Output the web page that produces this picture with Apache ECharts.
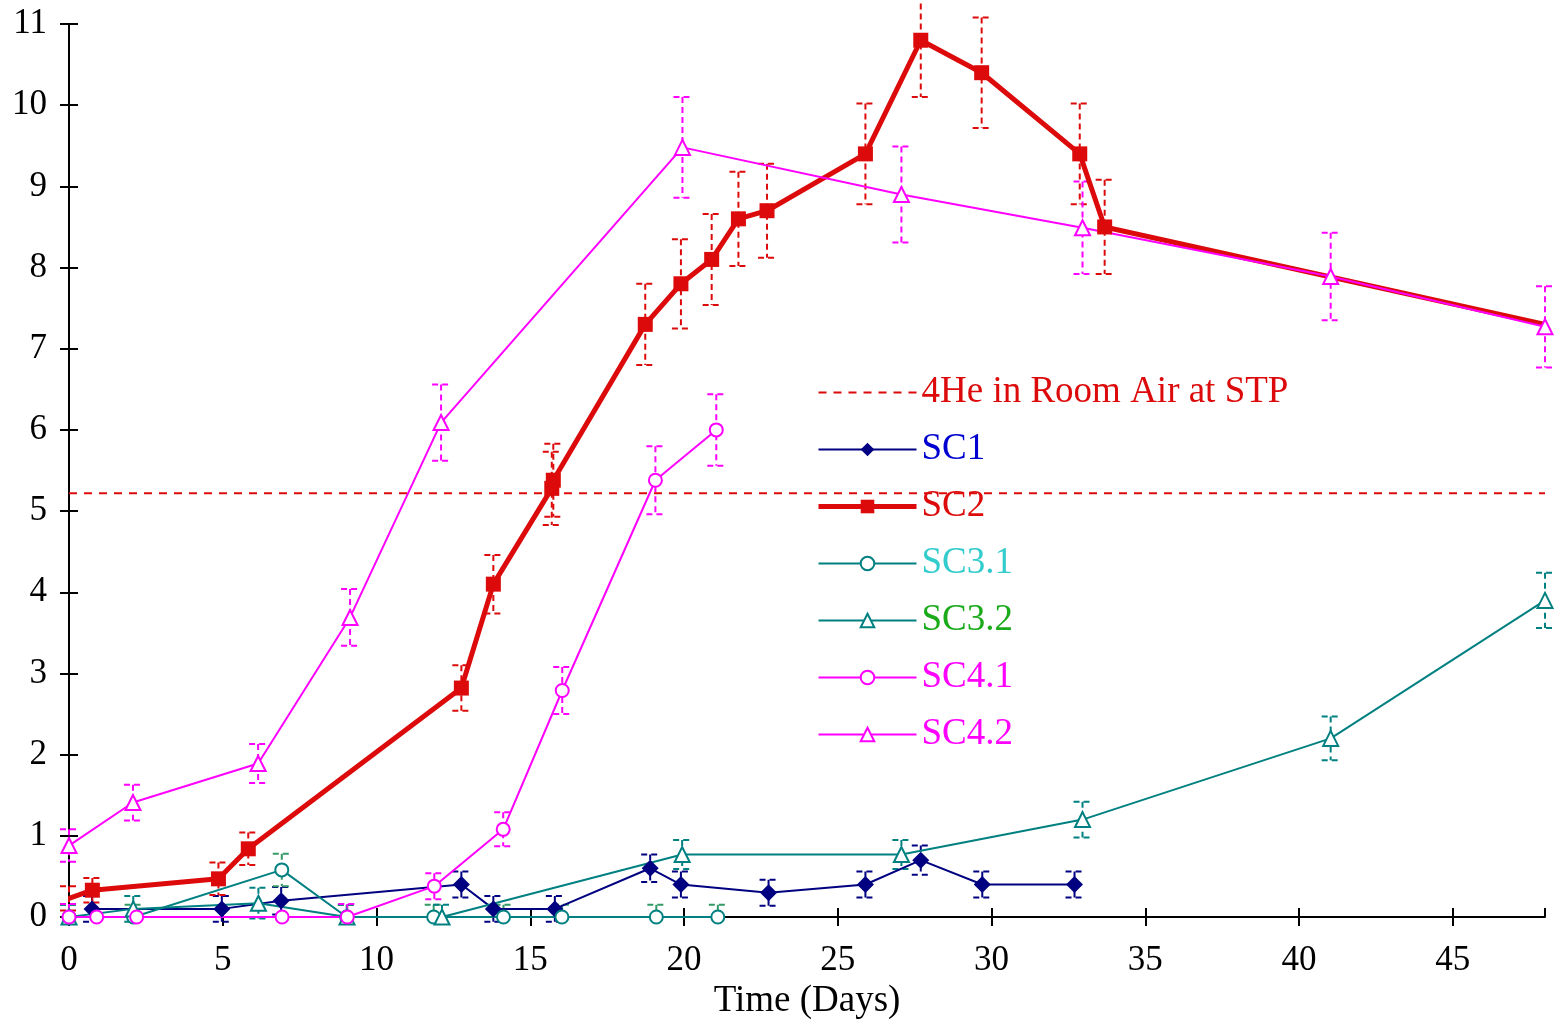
<!DOCTYPE html>
<html><head><meta charset="utf-8">
<script src="https://cdn.jsdelivr.net/npm/echarts@6/dist/echarts.min.js"></script>
<style>html,body{margin:0;padding:0;background:#fff}#c{width:1561px;height:1023px}</style>
</head><body><div id="c"></div>
<script>
// ---------------- data ----------------
const heLevel = 5.22;                 // 4He in room air at STP
const xTicksMax = 48;
const yTicksMax = 11;

const sc1Days = [0.75, 4.97, 6.9, 12.76, 13.8, 15.8, 18.9, 19.9, 22.75, 25.9, 27.7, 29.7, 32.7];
const sc1Vals = [0.1, 0.1, 0.2, 0.4, 0.1, 0.1, 0.6, 0.4, 0.3, 0.4, 0.7, 0.4, 0.4];
const sc1Err  = [0.16, 0.16, 0.17, 0.16, 0.16, 0.16, 0.17, 0.16, 0.16, 0.16, 0.18, 0.16, 0.16];

const sc2Days = [0, 0.76, 4.86, 5.83, 12.76, 13.8, 15.7, 15.75, 18.74, 19.9, 20.9, 21.77, 22.7, 25.9, 27.7, 29.68, 32.87, 33.68, 48];
const sc2Vals = [0.23, 0.33, 0.47, 0.84, 2.82, 4.1, 5.28, 5.38, 7.3, 7.8, 8.1, 8.6, 8.7, 9.4, 10.8, 10.4, 9.4, 8.5, 7.3];
const sc2Err  = [0.15, 0.15, 0.2, 0.2, 0.28, 0.36, 0.45, 0.45, 0.5, 0.55, 0.56, 0.58, 0.58, 0.62, 0.7, 0.68, 0.62, 0.58, 0];

const sc31Days = [0, 2.1, 6.92, 9.03, 11.86, 14.13, 16.03, 19.1, 21.1];
const sc31Vals = [0, 0, 0.58, 0, 0, 0, 0, 0, 0];
const sc31Err  = [0.15, 0.15, 0.2, 0.15, 0.15, 0.15, 0.15, 0.15, 0.15];

const sc32Days = [0, 2.09, 6.16, 9.04, 12.13, 19.94, 27.07, 32.96, 41.03, 48];
const sc32Vals = [0, 0.1, 0.17, 0, 0, 0.77, 0.77, 1.2, 2.2, 3.9];
const sc32Err  = [0.15, 0.16, 0.19, 0.15, 0.15, 0.18, 0.18, 0.22, 0.27, 0.34];

const sc41Days = [0, 0.9, 2.2, 6.93, 9.05, 11.88, 14.12, 16.04, 19.07, 21.05];
const sc41Vals = [0, 0, 0, 0, 0, 0.38, 1.08, 2.79, 5.38, 6.0];
const sc41Err  = [0.16, 0, 0, 0, 0.16, 0.16, 0.21, 0.29, 0.42, 0.44];

const sc42Days = [0, 2.08, 6.15, 9.14, 12.1, 19.95, 27.07, 32.96, 41.03, 48];
const sc42Vals = [0.88, 1.41, 1.89, 3.69, 6.09, 9.48, 8.9, 8.49, 7.89, 7.27];
const sc42Err  = [0.2, 0.22, 0.24, 0.35, 0.47, 0.62, 0.59, 0.57, 0.54, 0.5];

const legendNames = ['4He in Room Air at STP', 'SC1', 'SC2', 'SC3.1', 'SC3.2', 'SC4.1', 'SC4.2'];
const xAxisTitle = 'Time (Days)';

// ---------------- styling ----------------
const FONT = '"Liberation Serif", "Times New Roman", serif';
const NAVY = '#000080', RED = '#dc0a0a', TEAL = '#008080', MAG = '#ff00ff', GREENISH = '#339966';

function pairs(d, v) { return d.map((x, i) => [x, v[i]]); }
function triples(d, v, e) { return d.map((x, i) => [x, v[i], e[i]]); }

function errRender(color) {
  return function (params, api) {
    const x = api.value(0), v = api.value(1), e = api.value(2);
    if (!e) return null;
    const top = api.coord([x, v + e]);
    const mid = api.coord([x, v]);
    const showLow = (v - e) > -0.1;
    const bot = showLow ? api.coord([x, v - e]) : mid;
    const st = { stroke: color, lineWidth: 2, lineDash: [6, 4] };
    const children = [
      { type: 'line', shape: { x1: top[0], y1: top[1], x2: bot[0], y2: bot[1] }, style: st },
      { type: 'line', shape: { x1: top[0] - 9, y1: top[1], x2: top[0] + 10, y2: top[1] }, style: st }
    ];
    if (showLow) children.push({ type: 'line', shape: { x1: bot[0] - 9, y1: bot[1], x2: bot[0] + 10, y2: bot[1] }, style: st });
    return { type: 'group', children: children };
  };
}
function errSeries(name, d, v, e, color) {
  return { name: name, type: 'custom', data: triples(d, v, e), renderItem: errRender(color),
    encode: { x: 0, y: 1 }, z: 1, clip: false, silent: true };
}

const sc2Data = pairs(sc2Days, sc2Vals).map((p, i) => (i === 0 || i === sc2Days.length - 1) ? { value: p, symbol: 'none' } : p);

const tickTxt = { fontFamily: FONT, fontSize: 35, color: '#000' };
const titleTxt = { fontFamily: FONT, fontSize: 37, color: '#000' };

const option = {
  animation: false,
  backgroundColor: '#fff',
  grid: { left: 69, right: 16, top: 24, bottom: 106, containLabel: false, outerBoundsMode: 'none' },
  xAxis: [
    { type: 'value', min: 0, max: xTicksMax, interval: 5, position: 'bottom',
      axisLine: { lineStyle: { color: '#000', width: 2 } },
      axisTick: { inside: false, length: 9, lineStyle: { color: '#000', width: 2 } },
      axisLabel: Object.assign({ margin: 26, showMaxLabel: false }, tickTxt),
      splitLine: { show: false },
      name: xAxisTitle, nameLocation: 'middle', nameGap: 66, nameTextStyle: titleTxt },
    { type: 'value', min: 0, max: xTicksMax, interval: 5, position: 'bottom',
      axisLine: { show: false }, axisLabel: { show: false }, splitLine: { show: false },
      axisTick: { inside: true, length: 9, lineStyle: { color: '#000', width: 2 } } }
  ],
  yAxis: [
    { type: 'value', min: 0, max: yTicksMax, interval: 1, position: 'left',
      axisLine: { show: true, lineStyle: { color: '#000', width: 2 } },
      axisTick: { show: true, inside: false, length: 9, lineStyle: { color: '#000', width: 2 } },
      axisLabel: Object.assign({ margin: 22 }, tickTxt),
      splitLine: { show: false } },
    { type: 'value', min: 0, max: yTicksMax, interval: 1, position: 'left',
      axisLine: { show: false }, axisLabel: { show: false }, splitLine: { show: false },
      axisTick: { show: true, inside: true, length: 9, lineStyle: { color: '#000', width: 2 } } }
  ],
  legend: {
    orient: 'vertical', left: 811, top: 369, itemWidth: 98, itemHeight: 17, itemGap: 20,
    selectedMode: false,
    textStyle: { fontFamily: FONT, fontSize: 37 },
    data: [
      { name: legendNames[0], textStyle: { color: RED }, itemStyle: { opacity: 0 } },
      { name: legendNames[1], textStyle: { color: '#0000d0' } },
      { name: legendNames[2], textStyle: { color: RED }, lineStyle: { width: 5 } },
      { name: legendNames[3], textStyle: { color: '#33cccc' } },
      { name: legendNames[4], textStyle: { color: '#1aaa1a' } },
      { name: legendNames[5], textStyle: { color: MAG } },
      { name: legendNames[6], textStyle: { color: MAG } }
    ]
  },
  series: [
    errSeries('e1', sc1Days, sc1Vals, sc1Err, NAVY),
    errSeries('e2', sc2Days, sc2Vals, sc2Err, RED),
    errSeries('e31', sc31Days, sc31Vals, sc31Err, GREENISH),
    errSeries('e32', sc32Days, sc32Vals, sc32Err, TEAL),
    errSeries('e41', sc41Days, sc41Vals, sc41Err, MAG),
    errSeries('e42', sc42Days, sc42Vals, sc42Err, MAG),
    { name: legendNames[0], type: 'line', data: [[0, heLevel], [xTicksMax, heLevel]], symbol: 'none',
      lineStyle: { color: RED, width: 2, type: [8, 7] }, itemStyle: { color: RED }, z: 2, silent: true },
    { name: legendNames[1], type: 'line', data: pairs(sc1Days, sc1Vals), symbol: 'diamond', symbolSize: 17,
      lineStyle: { color: NAVY, width: 2 }, itemStyle: { color: NAVY }, z: 3, clip: false },
    { name: legendNames[2], type: 'line', data: sc2Data, symbol: 'rect', symbolSize: 15,
      lineStyle: { color: RED, width: 5 }, itemStyle: { color: RED }, z: 3, clip: false },
    { name: legendNames[3], type: 'line', data: pairs(sc31Days, sc31Vals), symbol: 'emptyCircle', symbolSize: 13,
      lineStyle: { color: TEAL, width: 2 }, itemStyle: { color: TEAL, borderWidth: 2 }, z: 3, clip: false },
    { name: legendNames[4], type: 'line', data: pairs(sc32Days, sc32Vals), symbol: 'emptyTriangle', symbolSize: 15,
      lineStyle: { color: TEAL, width: 2 }, itemStyle: { color: TEAL, borderWidth: 2 }, z: 3, clip: false },
    { name: legendNames[5], type: 'line', data: pairs(sc41Days, sc41Vals), symbol: 'emptyCircle', symbolSize: 13,
      lineStyle: { color: MAG, width: 2 }, itemStyle: { color: MAG, borderWidth: 2 }, z: 3, clip: false },
    { name: legendNames[6], type: 'line', data: pairs(sc42Days, sc42Vals), symbol: 'emptyTriangle', symbolSize: 15,
      lineStyle: { color: MAG, width: 2 }, itemStyle: { color: MAG, borderWidth: 2 }, z: 3, clip: false }
  ]
};

const chart = echarts.init(document.getElementById('c'), null, { renderer: 'canvas' });
chart.setOption(option);
</script>
</body></html>
